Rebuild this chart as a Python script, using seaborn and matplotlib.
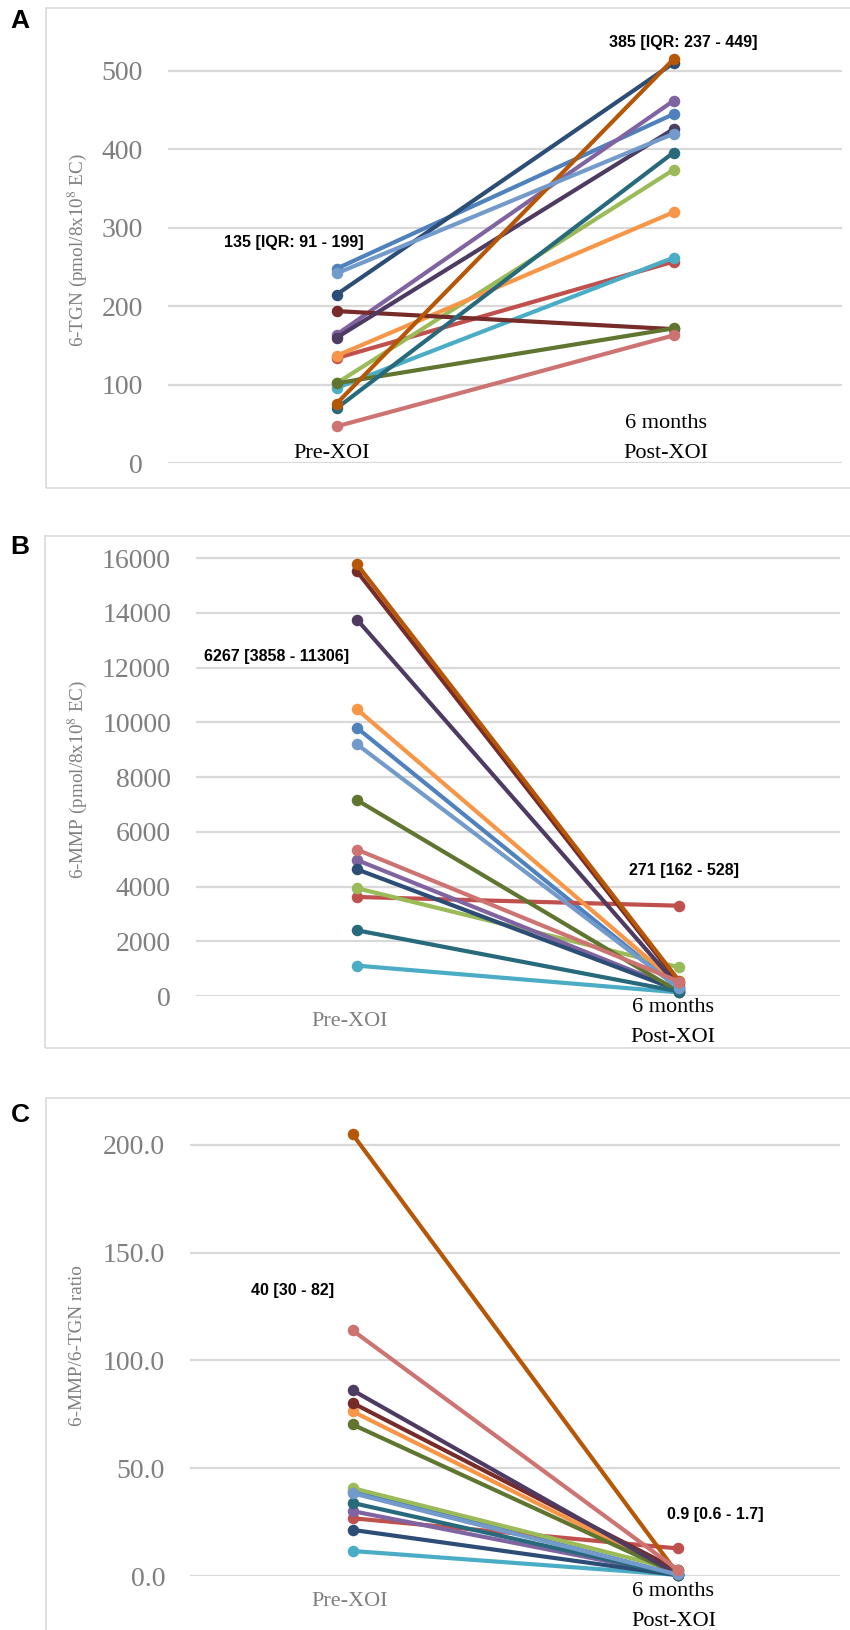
import numpy as np
import pandas as pd
import matplotlib
matplotlib.use("Agg")
import matplotlib.pyplot as plt
import seaborn as sns
from matplotlib.patches import Rectangle

# patients, in the drawing order of the original chart
patients = ["P1", "P2", "P3", "P4", "P5", "P6", "P7",
            "P8", "P9", "P10", "P11", "P12", "P13", "P14"]
colors = ["#4F81BD", "#C0504D", "#9BBB59", "#8064A2", "#4BACC6", "#F79646",
          "#2C4D75", "#772C2A", "#5F7530", "#4D3B62", "#276A7C", "#B65708",
          "#729ACA", "#CD7371"]
timepoints = ["Pre-XOI", "6 months Post-XOI"]

# 6-TGN (pmol/8x10^8 EC)
tgn_pre = [248, 134, 102, 164, 96, 137, 215, 194, 102, 160, 70, 76, 242, 47]
tgn_post = [445, 257, 374, 462, 262, 320, 510, 171, 172, 426, 396, 515, 420, 163]

# 6-MMP (pmol/8x10^8 EC)
mmp_pre = [9800, 3620, 3940, 4970, 1110, 10480, 4630, 15520, 7160, 13760,
           2400, 15780, 9200, 5350]
mmp_post = [260, 3300, 1050, 240, 130, 400, 200, 480, 150, 330, 162, 560, 282, 528]

# 6-MMP / 6-TGN ratio
ratio_pre = [39.5, 26.8, 40.8, 30.1, 11.6, 76.4, 21.4, 80.3, 70.3, 86.2,
             33.9, 205.0, 38.4, 114.0]
ratio_post = [0.6, 12.8, 2.8, 0.5, 0.5, 1.3, 0.4, 2.8, 0.9, 0.8, 0.4, 1.1, 0.7, 3.0]


def long_table(pre, post):
    rows = []
    for p, a, b in zip(patients, pre, post):
        rows.append({"patient": p, "time": 0, "value": a})
        rows.append({"patient": p, "time": 1, "value": b})
    return pd.DataFrame(rows)


sns.set_style("white")
plt.rcParams["font.family"] = ["Liberation Serif", "DejaVu Serif"]
plt.rcParams["mathtext.fontset"] = "stix"

W, H = 850, 1630
fig = plt.figure(figsize=(W / 100, H / 100), dpi=100)

GRAY = "#7f7f7f"
GRID = "#d9d9d9"
palette = dict(zip(patients, colors))


def frac(x, y):
    return x / W, 1 - y / H


def panel(box, axis_px, ylim, ticks, fmt, pre, post):
    # light frame of the panel
    bx0, by0, by1 = box
    fig.patches.append(Rectangle(frac(bx0, by1), (W - bx0 + 5) / W, (by1 - by0) / H,
                                 transform=fig.transFigure, fill=False,
                                 edgecolor=GRID, lw=1.2))
    x0, x1, y_zero, y_top = axis_px
    ax = fig.add_axes([x0 / W, 1 - y_zero / H, (x1 - x0) / W, (y_zero - y_top) / H])
    df = long_table(pre, post)
    sns.lineplot(data=df, x="time", y="value", hue="patient", palette=palette,
                 hue_order=patients, estimator=None, sort=False, marker="o",
                 markersize=8.3, markeredgewidth=0, linewidth=3.0,
                 legend=False, ax=ax, clip_on=False)
    ax.set_xlim(-0.5, 1.5)
    ax.set_ylim(*ylim)
    ax.set_yticks(ticks)
    ax.set_yticklabels([fmt.format(t) for t in ticks], color=GRAY, fontsize=20)
    ax.tick_params(axis="y", length=0, pad=18)
    ax.set_xticks([])
    ax.set_xlabel("")
    ax.set_ylabel("")
    ax.yaxis.grid(True, color=GRID, lw=1.6)
    ax.set_axisbelow(True)
    for s in ax.spines.values():
        s.set_visible(False)
    ax.patch.set_alpha(0)
    return ax


def ftext(x, y, s, **kw):
    fx, fy = frac(x, y)
    fig.text(fx, fy, s, ha="center", va="center", **kw)


bold = dict(family=["Liberation Sans", "DejaVu Sans"], fontweight="bold",
            fontsize=11.5, color="black")
letter = dict(family=["Liberation Sans", "DejaVu Sans"], fontweight="bold",
              fontsize=19, color="black")
ylab = dict(rotation=90, color=GRAY, fontsize=13.8)

# ---- A : 6-TGN
panel((46, 8, 488), (168, 842, 463.3, 39.6), (0, 540),
      [0, 100, 200, 300, 400, 500], "{:d}", tgn_pre, tgn_post)
ftext(20, 21, "A", **letter)
ftext(77, 250, r"6-TGN (pmol/8x10$^{8}$ EC)", **ylab)
ftext(294, 243, "135 [IQR: 91 - 199]", **bold)
ftext(683, 43, "385 [IQR: 237 - 449]", **bold)
ftext(332, 453, "Pre-XOI", color="black", fontsize=16)
ftext(666, 423, "6 months", color="black", fontsize=16)
ftext(666, 453, "Post-XOI", color="black", fontsize=16)

# ---- B : 6-MMP
panel((45, 536, 1048), (196, 840, 996, 544.6), (0, 16500),
      list(range(0, 16001, 2000)), "{:d}", mmp_pre, mmp_post)
ftext(20, 547, "B", **letter)
ftext(77, 779, r"6-MMP (pmol/8x10$^{8}$ EC)", **ylab)
ftext(277, 656, "6267 [3858 - 11306]", **bold)
ftext(684, 870, "271 [162 - 528]", **bold)
ftext(350, 1021, "Pre-XOI", color=GRAY, fontsize=16)
ftext(673, 1008, "6 months", color="black", fontsize=16)
ftext(673, 1038, "Post-XOI", color="black", fontsize=16)

# ---- C : ratio
panel((46, 1098, 1640), (190, 840, 1576, 1123.4), (0, 210),
      [0, 50, 100, 150, 200], "{:.1f}", ratio_pre, ratio_post)
ftext(20, 1115, "C", **letter)
ftext(77, 1346, "6-MMP/6-TGN ratio", **ylab)
ftext(293, 1290, "40 [30 - 82]", **bold)
ftext(715, 1514, "0.9 [0.6 - 1.7]", **bold)
ftext(350, 1602, "Pre-XOI", color=GRAY, fontsize=16)
ftext(673, 1591, "6 months", color="black", fontsize=16)
ftext(674, 1622, "Post-XOI", color="black", fontsize=16)

fig.savefig("out.png", dpi=100)
